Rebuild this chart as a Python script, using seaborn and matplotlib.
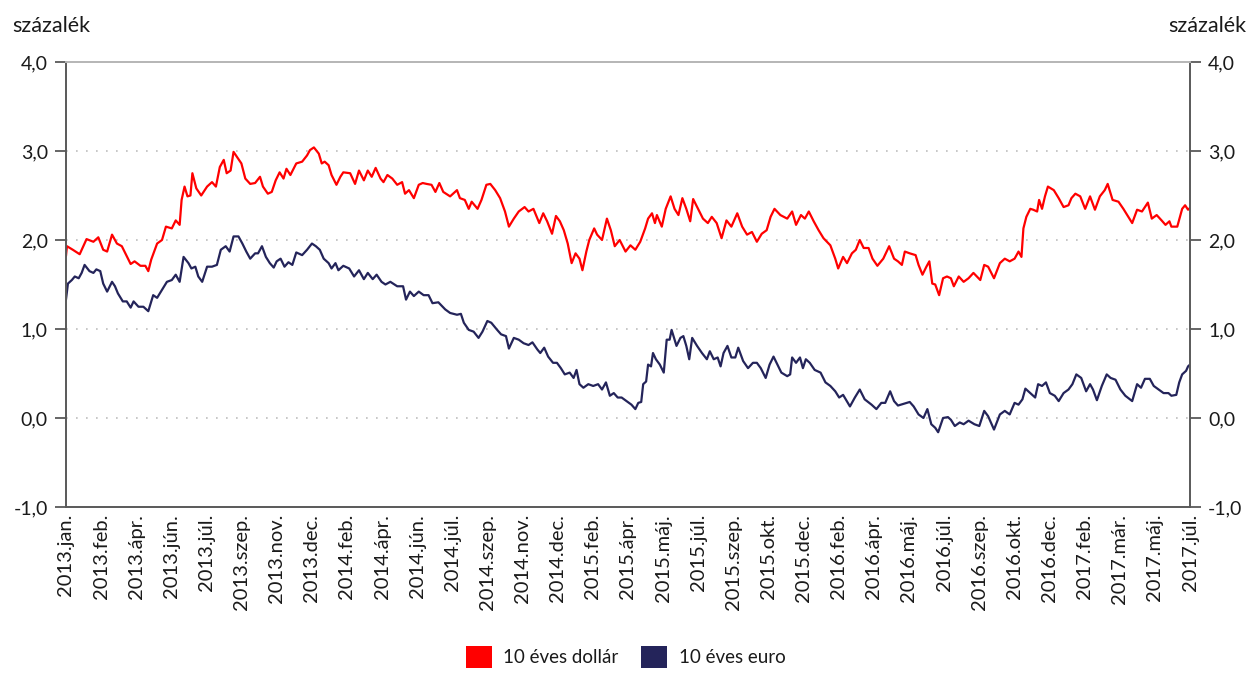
import numpy as np
import pandas as pd
import matplotlib
matplotlib.use("Agg")
import matplotlib.pyplot as plt
from matplotlib.patches import Patch
from matplotlib.ticker import FuncFormatter, FixedLocator
import seaborn as sns

# 10-year government bond yields (percent), indexed by trading day from 2013 Jan
dollar_day = [
    0, 1, 7, 14, 21, 28, 33, 38, 42, 47, 52, 57, 62, 66, 70, 76, 81, 84, 87, 93,
    98, 102, 108, 112, 116, 118, 121, 124, 127, 129, 133, 138, 144, 149, 153, 157,
    161, 164, 168, 171, 176, 179, 183, 188, 193, 198, 201, 206, 210, 214, 218, 222,
    225, 229, 235, 241, 246, 249, 253, 258, 261, 264, 268, 271, 276, 280, 283, 290,
    295, 299, 304, 308, 312, 316, 321, 324, 328, 333, 338, 343, 346, 350, 355, 360,
    364, 368, 373, 377, 381, 385, 392, 399, 402, 407, 411, 414, 420, 424, 429, 433,
    438, 443, 448, 452, 457, 462, 468, 472, 477, 483, 487, 491, 496, 500, 504, 508,
    512, 516, 520, 524, 527, 531, 534, 539, 542, 547, 552, 556, 560, 565, 571, 576,
    581, 586, 591, 594, 598, 601, 603, 608, 612, 617, 621, 625, 629, 633, 637, 640,
    645, 650, 655, 659, 664, 669, 674, 679, 685, 690, 695, 700, 705, 710, 715, 719,
    723, 729, 736, 741, 745, 750, 754, 758, 763, 768, 773, 780, 785, 788, 793, 797,
    802, 806, 810, 814, 819, 823, 828, 834, 840, 845, 849, 853, 856, 861, 867, 870,
    874, 878, 881, 884, 887, 891, 895, 899, 903, 906, 911, 916, 921, 926, 933, 937,
    941, 947, 953, 958, 963, 968, 972, 975, 977, 980, 984, 987, 991, 993, 996, 999,
    1002, 1008, 1013, 1018, 1023, 1026, 1030, 1035, 1040, 1045, 1050, 1055, 1060,
    1063, 1068, 1074, 1079, 1084, 1088, 1093, 1098, 1104, 1108, 1113, 1118, 1122,
    1126, 1128, 1134, 1139, 1142, 1145, 1147,
]
dollar_pct = [
    1.82, 1.93, 1.89, 1.84, 2.01, 1.98, 2.03, 1.89, 1.87, 2.06, 1.96, 1.93, 1.82, 1.73, 1.76, 1.71, 1.71, 1.65, 1.78, 1.96,
    2.00, 2.15, 2.13, 2.22, 2.17, 2.45, 2.60, 2.49, 2.50, 2.75, 2.58, 2.50, 2.60, 2.65, 2.60, 2.82,
    2.90, 2.75, 2.78, 2.99, 2.91, 2.86, 2.69, 2.63, 2.64, 2.71, 2.60, 2.52, 2.54, 2.67, 2.76, 2.69,
    2.80, 2.73, 2.86, 2.88, 2.95, 3.01, 3.04, 2.97, 2.86, 2.88, 2.84, 2.73, 2.62, 2.71, 2.76, 2.75,
    2.63, 2.78, 2.67, 2.78, 2.71, 2.81, 2.69, 2.65, 2.73, 2.69, 2.62, 2.65, 2.52, 2.56, 2.47, 2.62,
    2.64, 2.63, 2.62, 2.54, 2.64, 2.54, 2.49, 2.56, 2.47, 2.45, 2.35, 2.43, 2.35, 2.45, 2.62, 2.63,
    2.56, 2.47, 2.32, 2.15, 2.24, 2.32, 2.37, 2.32, 2.35, 2.19, 2.30, 2.21, 2.07, 2.27, 2.21, 2.11,
    1.96, 1.74, 1.85, 1.79, 1.66, 1.87, 2.00, 2.13, 2.06, 2.00, 2.24, 2.11, 1.93, 2.00, 1.87, 1.94,
    1.89, 1.98, 2.13, 2.24, 2.30, 2.19, 2.28, 2.15, 2.35, 2.49, 2.35, 2.28, 2.47, 2.35, 2.21, 2.46,
    2.35, 2.24, 2.19, 2.26, 2.19, 2.02, 2.22, 2.15, 2.30, 2.15, 2.06, 2.09, 1.98, 2.07, 2.11, 2.26,
    2.35, 2.28, 2.24, 2.32, 2.17, 2.28, 2.24, 2.32, 2.21, 2.11, 2.02, 1.94, 1.79, 1.68, 1.81, 1.74,
    1.85, 1.89, 2.00, 1.91, 1.91, 1.79, 1.71, 1.79, 1.93, 1.79, 1.76, 1.72, 1.87, 1.85, 1.83, 1.72,
    1.61, 1.70, 1.76, 1.51, 1.50, 1.38, 1.57, 1.59, 1.57, 1.48, 1.59, 1.53, 1.57, 1.63, 1.55, 1.72,
    1.70, 1.57, 1.74, 1.79, 1.76, 1.79, 1.87, 1.81, 2.13, 2.26, 2.35, 2.34, 2.32, 2.45, 2.35, 2.49,
    2.60, 2.56, 2.47, 2.37, 2.39, 2.47, 2.52, 2.49, 2.35, 2.49, 2.34, 2.49, 2.56,
    2.63, 2.45, 2.43, 2.35, 2.26, 2.19, 2.34, 2.32, 2.42, 2.24, 2.28, 2.22, 2.17,
    2.21, 2.15, 2.15, 2.35, 2.39, 2.34, 2.36,
]

euro_day = [
    0, 2, 6, 9, 13, 16, 19, 24, 28, 31, 35, 38, 42, 47, 50, 53, 58, 62, 66, 69,
    74, 79, 84, 89, 93, 98, 103, 108, 112, 116, 120, 125, 128, 132, 135, 139, 144, 149,
    154, 158, 163, 167, 171, 176, 180, 184, 188, 193, 196, 200, 204, 208, 212, 215,
    219, 223, 227, 231, 235, 241, 246, 251, 255, 259, 263, 268, 271, 275, 278, 283,
    289, 294, 299, 304, 308, 313, 317, 322, 326, 331, 338, 344, 347, 351, 355, 360,
    365, 370, 374, 380, 387, 392, 399, 403, 406, 411, 416, 421, 425, 430, 434, 440,
    444, 449, 452, 457, 462, 467, 472, 476, 481, 484, 488, 492, 497, 501, 505, 509,
    514, 518, 521, 524, 528, 533, 538, 543, 547, 551, 555, 559, 563, 567, 572, 577,
    581, 584, 587, 589, 592, 594, 597, 599, 602, 606, 610, 613, 616, 618, 623, 627,
    630, 633, 636, 639, 644, 649, 654, 657, 661, 665, 668, 671, 675, 679, 683, 686,
    691, 696, 701, 705, 709, 714, 718, 722, 726, 730, 736, 739, 741, 745, 749, 752,
    755, 759, 764, 770, 775, 780, 785, 789, 793, 800, 805, 810, 815, 822, 827, 832,
    836, 841, 845, 849, 855, 861, 865, 870, 875, 879, 883, 887, 890, 895, 900, 903,
    907, 912, 916, 921, 927, 932, 937, 941, 947, 953, 958, 963, 968, 972, 976, 979,
    984, 989, 992, 996, 1000, 1004, 1009, 1013, 1018, 1023, 1027, 1031, 1036, 1041,
    1045, 1048, 1052, 1057, 1062, 1066, 1071, 1076, 1081, 1088, 1093, 1097, 1101,
    1106, 1110, 1115, 1120, 1125, 1128, 1133, 1136, 1139, 1143, 1145, 1147,
]
euro_pct = [
    1.33, 1.51, 1.55, 1.59, 1.57, 1.63, 1.72, 1.65, 1.63, 1.67, 1.65, 1.51, 1.42, 1.53, 1.48, 1.40, 1.31, 1.31, 1.24, 1.31,
    1.25, 1.25, 1.20, 1.38, 1.35, 1.44, 1.53, 1.55, 1.61, 1.53, 1.81, 1.74, 1.68, 1.70, 1.59, 1.53, 1.70, 1.70,
    1.72, 1.89, 1.93, 1.87, 2.04, 2.04, 1.96, 1.87, 1.79, 1.85, 1.85, 1.93, 1.81, 1.74, 1.69, 1.76,
    1.79, 1.70, 1.75, 1.72, 1.86, 1.83, 1.89, 1.96, 1.93, 1.89, 1.79, 1.74, 1.68, 1.74, 1.66, 1.71,
    1.68, 1.59, 1.66, 1.56, 1.63, 1.56, 1.61, 1.53, 1.50, 1.53, 1.48, 1.48, 1.33, 1.42, 1.37, 1.42,
    1.38, 1.38, 1.29, 1.30, 1.22, 1.18, 1.16, 1.17, 1.07, 0.99, 0.97, 0.90, 0.97, 1.09, 1.07, 0.99,
    0.94, 0.92, 0.78, 0.90, 0.88, 0.84, 0.82, 0.85, 0.77, 0.73, 0.79, 0.69, 0.62, 0.62, 0.56, 0.49,
    0.51, 0.45, 0.54, 0.38, 0.34, 0.38, 0.36, 0.38, 0.32, 0.40, 0.25, 0.28, 0.23, 0.23, 0.19, 0.15,
    0.10, 0.17, 0.18, 0.38, 0.41, 0.60, 0.58, 0.73, 0.66, 0.60, 0.51, 0.88, 0.88, 0.99, 0.81, 0.90,
    0.92, 0.81, 0.66, 0.90, 0.81, 0.73, 0.66, 0.75, 0.66, 0.68, 0.58, 0.73, 0.81, 0.68, 0.68, 0.79,
    0.64, 0.56, 0.62, 0.62, 0.56, 0.45, 0.60, 0.69, 0.60, 0.51, 0.47, 0.49, 0.68, 0.62, 0.68, 0.56,
    0.66, 0.62, 0.54, 0.51, 0.40, 0.36, 0.30, 0.23, 0.26, 0.13, 0.23, 0.32, 0.21, 0.15, 0.10, 0.17,
    0.17, 0.30, 0.19, 0.14, 0.16, 0.18, 0.13, 0.04, 0.00, 0.10, -0.07, -0.11, -0.16, 0.00, 0.01, -0.02,
    -0.09, -0.05, -0.07, -0.03, -0.07, -0.09, 0.08, 0.02, -0.13, 0.04, 0.08, 0.04, 0.17, 0.15, 0.21, 0.33,
    0.28, 0.23, 0.38, 0.36, 0.40, 0.28, 0.25, 0.19, 0.28, 0.32, 0.38, 0.49, 0.45, 0.30,
    0.38, 0.32, 0.20, 0.36, 0.49, 0.45, 0.43, 0.32, 0.25, 0.19, 0.38, 0.34, 0.44,
    0.44, 0.36, 0.32, 0.28, 0.28, 0.25, 0.26, 0.40, 0.49, 0.53, 0.58, 0.60,
]

month_labels = [
    "2013.jan.", "2013.feb.", "2013.ápr.", "2013.jún.", "2013.júl.", "2013.szep.",
    "2013.nov.", "2013.dec.", "2014.feb.", "2014.ápr.", "2014.jún.", "2014.júl.",
    "2014.szep.", "2014.nov.", "2014.dec.", "2015.feb.", "2015.ápr.", "2015.máj.",
    "2015.júl.", "2015.szep.", "2015.okt.", "2015.dec.", "2016.feb.", "2016.ápr.",
    "2016.máj.", "2016.júl.", "2016.szep.", "2016.okt.", "2016.dec.", "2017.feb.",
    "2017.már.", "2017.máj.", "2017.júl.",
]

series_names = ["10 éves dollár", "10 éves euro"]
series_colors = ["#ff0000", "#24245a"]

df = pd.concat([
    pd.DataFrame({"nap": dollar_day, "hozam": dollar_pct, "sorozat": series_names[0]}),
    pd.DataFrame({"nap": euro_day, "hozam": euro_pct, "sorozat": series_names[1]}),
], ignore_index=True)

sns.set_style("white")
plt.rcParams["font.family"] = ["Lato", "DejaVu Sans"]
text_color = "#1a1a1a"
axis_color = "#595959"

fig = plt.figure(figsize=(12.59, 6.78), dpi=100)
ax = fig.add_axes([0.0524, 0.2522, 0.8928, 0.6564])

sns.lineplot(data=df, x="nap", y="hozam", hue="sorozat",
             palette=dict(zip(series_names, series_colors)),
             linewidth=1.6, legend=False, ax=ax, sort=True, estimator=None)

last_day = max(dollar_day[-1], euro_day[-1])
ax.set_xlim(0, last_day)
ax.set_ylim(-1.0, 4.0)

# dotted horizontal gridlines
for v in [0.0, 1.0, 2.0, 3.0]:
    ax.axhline(v, color="#bdbdbd", linewidth=1.2, linestyle=(0, (1, 5)), zorder=0)

ax.yaxis.set_major_locator(FixedLocator([-1.0, 0.0, 1.0, 2.0, 3.0, 4.0]))
ax.yaxis.set_major_formatter(FuncFormatter(lambda v, p: f"{v:.1f}".replace(".", ",")))
ax.tick_params(axis="y", which="major", direction="out", length=8, width=1.3,
               color=axis_color, left=True, right=True, labelleft=True, labelright=True,
               labelsize=14, labelcolor=text_color, pad=5)

ax.xaxis.set_major_locator(FixedLocator(np.linspace(0, last_day, len(month_labels))))
ax.set_xticklabels(month_labels, rotation=90, fontsize=14.5, color=text_color)
ax.tick_params(axis="x", length=0, pad=5)
ax.set_xlabel("")
ax.set_ylabel("")

for side in ["left", "right", "bottom"]:
    ax.spines[side].set_color(axis_color)
    ax.spines[side].set_linewidth(1.4)
ax.spines["top"].set_color("#b5b5b5")
ax.spines["top"].set_linewidth(1.4)

fig.text(12 / 1259, 1 - 26 / 678, "százalék", ha="left", va="center",
         fontsize=15.5, color=text_color)
fig.text(1246 / 1259, 1 - 26 / 678, "százalék", ha="right", va="center",
         fontsize=15.5, color=text_color)

handles = [Patch(facecolor=c, edgecolor="none", label=n)
           for n, c in zip(series_names, series_colors)]
fig.legend(handles=handles, loc="lower center", bbox_to_anchor=(0.497, -0.01),
           ncol=2, frameon=False, fontsize=13.5, handlelength=1.4, handleheight=1.4,
           handletextpad=0.6, columnspacing=1.2, labelcolor=text_color)

fig.savefig("out.png", dpi=100)
